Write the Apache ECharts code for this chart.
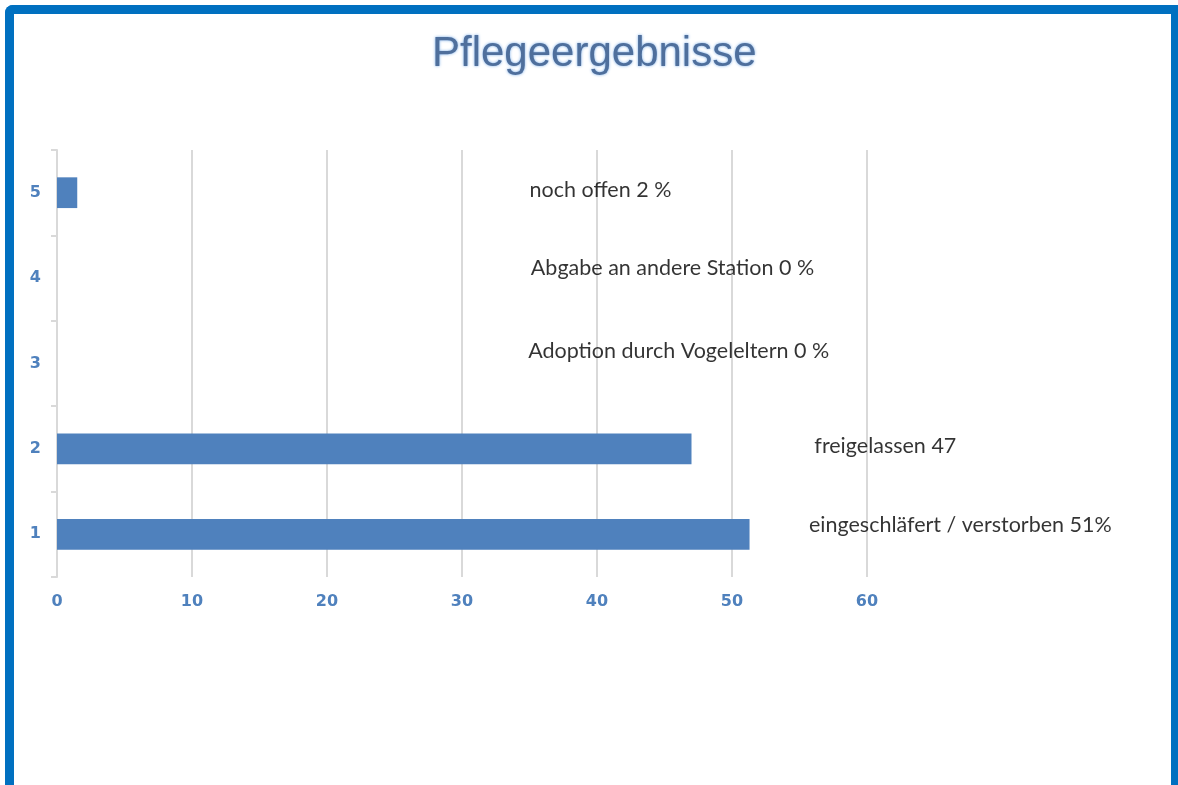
<!DOCTYPE html>
<html>
<head>
<meta charset="utf-8">
<script src="https://cdn.jsdelivr.net/npm/echarts@6/dist/echarts.min.js"></script>
<style>
  html, body { margin: 0; padding: 0; background: #fff; overflow: hidden; }
  #frame { position: absolute; left: 5px; top: 5px; width: 1157px; height: 800px;
           border: 9px solid #0070c0; border-bottom: none; border-top-left-radius: 8px; }
  #chart { position: absolute; left: 0; top: 0; width: 1178px; height: 785px; }
</style>
</head>
<body>
<div id="frame"></div>
<div id="chart"></div>
<script>
const categories = ['1', '2', '3', '4', '5'];
const values = [51.3, 47, 0, 0, 1.5];
const xTicks = [0, 10, 20, 30, 40, 50, 60];
const noteTexts = ['eingeschläfert / verstorben 51%', 'freigelassen 47', 'Adoption durch Vogeleltern 0 %', 'Abgabe an andere Station 0 %', 'noch offen 2 %'];
const noteX = [55.7, 56.1, 34.9, 35.1, 35.0];
const noteDy = [-9, -3, -12, -10, -3];

const chart = echarts.init(document.getElementById('chart'), null, { renderer: 'canvas' });
chart.setOption({
  backgroundColor: 'transparent',
  animation: false,
  title: {
    text: 'Pflegeergebnisse',
    left: 427,
    top: 28,
    textStyle: {
      fontFamily: 'Liberation Sans', fontSize: 42, fontWeight: 'normal',
      color: '#4f6f9c', textShadowColor: 'rgba(110,165,230,0.95)', textShadowBlur: 3
    }
  },
  grid: { left: 57, right: 311, top: 150, bottom: 208, containLabel: false },
  xAxis: {
    type: 'value', min: xTicks[0], max: xTicks[xTicks.length - 1], interval: 10,
    axisLine: { show: false }, axisTick: { show: false },
    splitLine: { show: true, lineStyle: { color: '#d9d9d9', width: 2 } },
    axisLabel: { color: '#4f81bd', fontWeight: 'bold', fontSize: 16, fontFamily: 'DejaVu Sans', margin: 17 }
  },
  yAxis: {
    type: 'category', data: categories,
    axisLine: { show: true, lineStyle: { color: '#d9d9d9', width: 2 } },
    axisTick: { show: true, length: 6, lineStyle: { color: '#d9d9d9', width: 2 } },
    axisLabel: { color: '#4f81bd', fontWeight: 'bold', fontSize: 16, fontFamily: 'DejaVu Sans', margin: 16 }
  },
  series: [
    {
      type: 'bar', data: values, barWidth: '36%',
      itemStyle: { color: '#4f81bd' }
    },
    {
      type: 'scatter', symbolSize: 0, silent: true,
      data: noteX.map((x, i) => ({
        value: [x, i],
        label: { offset: [0, noteDy[i]] }
      })),
      label: {
        show: true, position: 'right', distance: 0,
        formatter: p => noteTexts[p.dataIndex],
        color: '#000', fontSize: 21.5, fontFamily: 'Lato'
      }
    }
  ]
});
</script>
</body>
</html>
